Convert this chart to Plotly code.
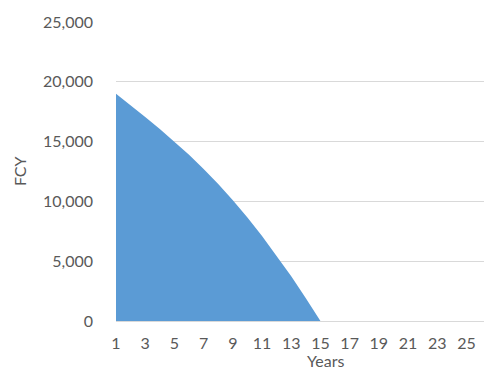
import plotly.graph_objects as go

# Outstanding FCY balance by year
years = list(range(1, 26))
fcy = [19000, 18050, 17050, 16050, 15000, 13900, 12700, 11450, 10100, 8650,
       7100, 5450, 3750, 1900, 0, 0, 0, 0, 0, 0, 0, 0, 0, 0, 0]
x_ticks = list(range(1, 26, 2))
y_ticks = [0, 5000, 10000, 15000, 20000, 25000]

font_family = "Lato, 'Open Sans', sans-serif"
label_color = "#595959"
grid_color = "#d9d9d9"

fig = go.Figure(
    go.Scatter(
        x=years,
        y=fcy,
        mode="lines",
        line=dict(width=0, color="#5b9bd5"),
        fill="tozeroy",
        fillcolor="#5b9bd5",
        hoverinfo="x+y",
    )
)

fig.update_layout(
    width=484,
    height=374,
    margin=dict(l=116, r=0, t=22, b=53),
    paper_bgcolor="white",
    plot_bgcolor="white",
    showlegend=False,
    font=dict(family=font_family, color=label_color, size=16),
    xaxis=dict(
        range=[1, 26.2],
        tickmode="array",
        tickvals=x_ticks,
        ticktext=[str(v) for v in x_ticks],
        showgrid=False,
        zeroline=False,
        showline=True,
        linecolor=grid_color,
        linewidth=1,
        ticks="",
        ticklabelstandoff=8,
        tickfont=dict(size=16, color=label_color),
    ),
    yaxis=dict(
        range=[0, 25000],
        tickmode="array",
        tickvals=y_ticks,
        ticktext=[f"{v:,}" for v in y_ticks],
        showgrid=True,
        gridcolor=grid_color,
        gridwidth=1,
        zeroline=False,
        showline=False,
        ticks="",
        ticklabelstandoff=22,
        tickfont=dict(size=16, color=label_color),
    ),
    annotations=[
        dict(
            text="FCY", xref="paper", yref="paper",
            x=-0.262, y=0.5, xanchor="center", yanchor="middle",
            textangle=-90, showarrow=False,
            font=dict(size=16, color=label_color, family=font_family),
        ),
        dict(
            text="Years", xref="paper", yref="paper",
            x=0.57, y=-0.172, xanchor="center", yanchor="bottom",
            showarrow=False,
            font=dict(size=16, color=label_color, family=font_family),
        ),
    ],
)

fig.write_html("out.html")
